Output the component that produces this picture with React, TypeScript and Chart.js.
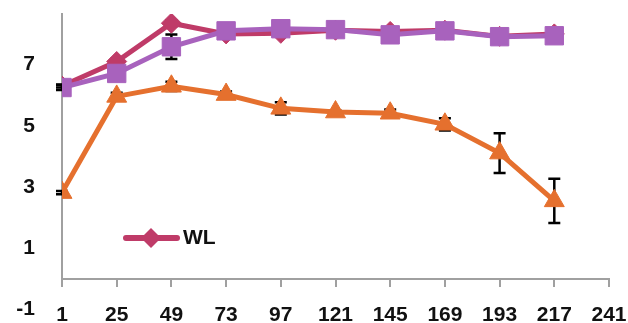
import React, { useEffect, useRef } from 'react';
import { Chart, registerables } from 'chart.js';

Chart.register(...registerables);

// ---- data ----
const days = [1, 25, 49, 73, 97, 121, 145, 169, 193, 217];
const seriesNames = ['WL', 'WM', 'WH'];
const wlValues = [6.3, 7.1, 8.35, 8.0, 8.02, 8.12, 8.08, 8.12, 7.92, 8.0];
const wmValues = [6.25, 6.71, 7.58, 8.1, 8.17, 8.14, 7.97, 8.1, 7.91, 7.94];
const whValues = [2.82, 5.96, 6.29, 6.02, 5.57, 5.45, 5.41, 5.05, 4.11, 2.55];
const wlErrors = [0.05, 0.1, 0.1, 0.05, 0.05, 0.05, 0.05, 0.05, 0.05, 0.05];
const wmErrors = [0.08, 0.1, 0.4, 0.05, 0.05, 0.05, 0.05, 0.05, 0.05, 0.05];
const whErrors = [0.05, 0.12, 0.15, 0.1, 0.2, 0.05, 0.12, 0.2, 0.65, 0.72];
const xTicks = [1, 25, 49, 73, 97, 121, 145, 169, 193, 217, 241];
const yTicks = [-1, 1, 3, 5, 7];

const COLORS = { wl: '#BF3B68', wm: '#A862BD', wh: '#E5702E' };
const FONT = { family: '"Liberation Sans", Arial, sans-serif', size: 21, weight: 'bold' as const };
const AXIS_GRAY = '#A0A0A0';

const toPoints = (vals: number[]) => vals.map((v, i) => ({ x: days[i], y: v }));

const errorBarPlugin = {
  id: 'errorBars',
  beforeDatasetsDraw(chart: any) {
    const { ctx, scales } = chart;
    const xs = scales.x;
    const ys = scales.y;
    chart.data.datasets.forEach((ds: any) => {
      const errs: number[] = ds.errors || [];
      ctx.save();
      ctx.strokeStyle = '#000';
      ctx.lineWidth = 2.5;
      ds.data.forEach((p: any, i: number) => {
        const e = errs[i] || 0;
        if (!e) return;
        const x = xs.getPixelForValue(p.x);
        const y1 = ys.getPixelForValue(p.y + e);
        const y2 = ys.getPixelForValue(p.y - e);
        ctx.beginPath();
        ctx.moveTo(x, y1);
        ctx.lineTo(x, y2);
        ctx.moveTo(x - 6, y1);
        ctx.lineTo(x + 6, y1);
        ctx.moveTo(x - 6, y2);
        ctx.lineTo(x + 6, y2);
        ctx.stroke();
      });
      ctx.restore();
    });
  },
};

// legend symbol: transparent left part, then line with diamond
function makeLegendSymbol(color: string) {
  const c = document.createElement('canvas');
  c.width = 109;
  c.height = 24;
  const g = c.getContext('2d')!;
  g.strokeStyle = color;
  g.lineWidth = 6;
  g.lineCap = 'round';
  g.beginPath();
  g.moveTo(55, 12);
  g.lineTo(106, 12);
  g.stroke();
  g.fillStyle = color;
  g.beginPath();
  g.moveTo(80, 2);
  g.lineTo(90, 12);
  g.lineTo(80, 22);
  g.lineTo(70, 12);
  g.closePath();
  g.fill();
  return c;
}

export default function App() {
  const ref = useRef<HTMLCanvasElement>(null);
  useEffect(() => {
    if (!ref.current) return;
    const legendSymbol = makeLegendSymbol(COLORS.wl);
    const mk = (label: string, vals: number[], errs: number[], color: string, style: string, radius: number) => ({
      label,
      data: toPoints(vals),
      errors: errs,
      borderColor: color,
      backgroundColor: color,
      borderWidth: 5,
      pointStyle: style,
      pointRadius: radius,
      pointBackgroundColor: color,
      pointBorderColor: color,
      pointBorderWidth: 1,
      tension: 0,
    });
    const chart = new Chart(ref.current, {
      type: 'line',
      data: {
        datasets: [
          mk(seriesNames[1], wmValues, wmErrors, COLORS.wm, 'rect', 13),
          mk(seriesNames[0], wlValues, wlErrors, COLORS.wl, 'rectRot', 10),
          mk(seriesNames[2], whValues, whErrors, COLORS.wh, 'triangle', 11.5),
        ] as any,
      },
      options: {
        animation: false,
        responsive: false,
        layout: { padding: { top: 12, left: 0, right: 0, bottom: 0 } },
        scales: {
          x: {
            type: 'linear',
            min: 1,
            max: 241,
            afterBuildTicks: (s: any) => {
              s.ticks = xTicks.map((v) => ({ value: v }));
            },
            afterFit: (s: any) => {
              s.height = 44;
              s.paddingLeft = 0;
              s.paddingRight = 19;
            },
            border: { color: AXIS_GRAY, width: 2 },
            grid: { display: true, drawOnChartArea: false, drawTicks: true, tickLength: 8, color: AXIS_GRAY, lineWidth: 2 },
            ticks: { font: FONT, color: '#111', padding: 16, maxRotation: 0, autoSkip: false },
          },
          y: {
            type: 'linear',
            min: 0,
            max: 8.65,
            afterBuildTicks: (s: any) => {
              s.ticks = yTicks.map((v) => ({ value: v }));
            },
            afterFit: (s: any) => {
              s.width = 62;
              s.paddingTop = 0;
              s.paddingBottom = 0;
            },
            border: { color: AXIS_GRAY, width: 2 },
            grid: { display: false, drawTicks: false },
            ticks: { font: FONT, color: '#111', padding: 27 },
          },
        },
        plugins: {
          tooltip: { enabled: false },
          legend: {
            position: 'chartArea' as any,
            align: 'end',
            labels: {
              usePointStyle: true,
              pointStyleWidth: 94,
              padding: 16.5,
              font: FONT,
              color: '#111',
              generateLabels: (ch: any) => {
                const items = Chart.defaults.plugins.legend.labels.generateLabels(ch);
                return items
                  .filter((it: any) => it.text === 'WL')
                  .map((it: any) => ({ ...it, pointStyle: legendSymbol }));
              },
            },
          },
        },
      } as any,
      plugins: [errorBarPlugin],
    });
    return () => chart.destroy();
  }, []);
  return (
    <div style={{ position: 'absolute', left: 0, top: 0, width: 628, height: 323, background: '#fff' }}>
      <canvas ref={ref} width={628} height={323} style={{ width: 628, height: 323, display: 'block' }} />
    </div>
  );
}
